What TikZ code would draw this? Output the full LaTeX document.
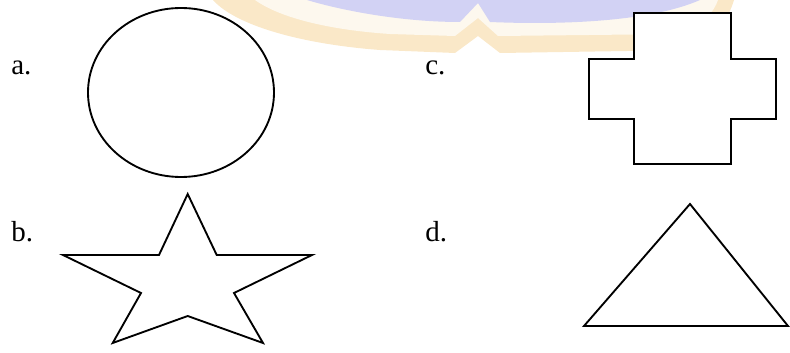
\documentclass[tikz,border=0pt]{standalone}
\usepackage{fontspec}
\setmainfont{Liberation Serif}
\usetikzlibrary{positioning}
\definecolor{wmblue}{RGB}{210,210,244}
\definecolor{wmorange}{RGB}{250,232,200}

\begin{document}
\begin{tikzpicture}[
  x=0.75pt, y=-0.75pt,
  outline/.style={draw=black, fill=white, line width=1.4pt, line join=miter},
  tag/.style={font=\fontsize{21.75}{26}\selectfont, anchor=base west, inner sep=0pt}
]
\useasboundingbox (0,0) rectangle (790,353);

% faint logo at the top
\fill[wmorange] (213,0) .. controls (235,25) and (300,44) .. (380,50) -- (455,53) -- (478,36) -- (500,53) -- (690,50) .. controls (715,40) and (728,20) .. (734,0) -- cycle;
\fill[white!70!wmorange] (255,0) .. controls (280,18) and (330,30) .. (390,34) -- (455,36) -- (478,18) -- (498,36) -- (680,34) .. controls (702,26) and (714,12) .. (718,0) -- cycle;
\fill[wmblue] (307,0) .. controls (340,10) and (400,22) .. (460,22) -- (478,3) -- (490,22) .. controls (560,25) and (650,22) .. (700,0) -- cycle;

% labels
\node[tag] (lbla) at (11,75) {a.};
\node[tag] (lblc) at (425,75) {c.};
\node[tag] (lblb) at (11,241) {b.};
\node[tag] (lbld) at (425,241) {d.};

% a. circle
\draw[outline] (181,92.5) ellipse [x radius=93, y radius=84.5];

% c. cross
\draw[outline] (634,13) -- (731,13) -- (731,59) -- (776,59) -- (776,119) -- (731,119)
  -- (731,164) -- (634,164) -- (634,119) -- (589,119) -- (589,59) -- (634,59) -- cycle;

% b. star
\draw[outline] (187.7,194) -- (216.7,255) -- (312,255) -- (234,293) -- (263,343)
  -- (187.7,316) -- (112.7,343) -- (141,293) -- (63,255) -- (159,255) -- cycle;

% d. triangle
\draw[outline] (690,204) -- (788,326) -- (584,326) -- cycle;

\end{tikzpicture}
\end{document}
